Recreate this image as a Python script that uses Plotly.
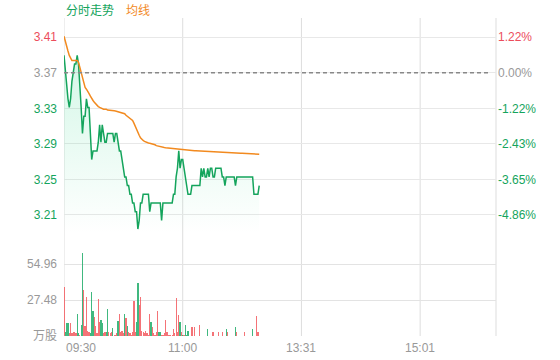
import plotly.graph_objects as go

# ---------------- data ----------------
prev_close = 3.37

price = [
    3.39, 3.37, 3.35, 3.34, 3.33, 3.34, 3.36, 3.37, 3.38, 3.38,
    3.39, 3.38, 3.36, 3.33, 3.30, 3.32, 3.32, 3.34, 3.33, 3.33,
    3.30, 3.27, 3.28, 3.28, 3.28, 3.28, 3.29, 3.31, 3.29, 3.31,
    3.30, 3.29, 3.29, 3.30, 3.30, 3.30, 3.30, 3.30, 3.29, 3.30,
    3.30, 3.29, 3.28, 3.28, 3.27, 3.26, 3.25, 3.25, 3.24, 3.24,
    3.23, 3.23, 3.22, 3.22, 3.21, 3.21, 3.19, 3.20, 3.22, 3.22,
    3.23, 3.23, 3.23, 3.23, 3.23, 3.21, 3.22, 3.22, 3.22, 3.22,
    3.22, 3.22, 3.22, 3.22, 3.20, 3.22, 3.22, 3.22, 3.22, 3.22,
    3.22, 3.22, 3.22, 3.23, 3.23, 3.25, 3.26, 3.28, 3.26, 3.27,
    3.27, 3.26, 3.25, 3.24, 3.23, 3.23, 3.23, 3.24, 3.24, 3.24,
    3.24, 3.24, 3.24, 3.24, 3.26, 3.25, 3.26, 3.25, 3.25, 3.26,
    3.25, 3.26, 3.26, 3.25, 3.25, 3.26, 3.26, 3.26, 3.26, 3.26,
    3.25, 3.25, 3.24, 3.25, 3.25, 3.25, 3.25, 3.25, 3.25, 3.25,
    3.24, 3.25, 3.25, 3.25, 3.25, 3.25, 3.25, 3.25, 3.25, 3.25,
    3.25, 3.25, 3.25, 3.25, 3.23, 3.23, 3.23, 3.23, 3.24,
]

avg_price = [
    3.412, 3.405, 3.399, 3.395, 3.390, 3.386, 3.384, 3.384, 3.384, 3.384,
    3.384, 3.382, 3.376, 3.369, 3.362, 3.357, 3.353, 3.351, 3.349, 3.346,
    3.343, 3.340, 3.338, 3.336, 3.334, 3.332, 3.331, 3.330, 3.329, 3.329,
    3.328, 3.328, 3.328, 3.327, 3.327, 3.327, 3.327, 3.3265, 3.3262, 3.326,
    3.3255, 3.325, 3.3245, 3.324, 3.3235, 3.323, 3.3228, 3.321, 3.320, 3.318,
    3.317, 3.316, 3.315, 3.312, 3.308, 3.304, 3.300, 3.298, 3.295, 3.293,
    3.292, 3.291, 3.290, 3.2895, 3.289, 3.2888, 3.2885, 3.288, 3.2875, 3.287,
    3.286, 3.2855, 3.285, 3.2845, 3.2843, 3.2841, 3.2839, 3.2837, 3.2835, 3.2833,
    3.2831, 3.283, 3.2828, 3.2826, 3.2824, 3.2822, 3.282, 3.2818, 3.2816, 3.2815,
    3.2814, 3.2813, 3.2812, 3.281, 3.2809, 3.2807, 3.2806, 3.2805, 3.2803, 3.2802,
    3.2801, 3.28, 3.2799, 3.2798, 3.2796, 3.2795, 3.2794, 3.2793, 3.2791, 3.279,
    3.2789, 3.2788, 3.2788, 3.2787, 3.2786, 3.2786, 3.2785, 3.2784, 3.2783, 3.2783,
    3.2782, 3.2781, 3.2781, 3.278, 3.2779, 3.2779, 3.2778, 3.2777, 3.2777, 3.2776,
    3.2775, 3.2775, 3.2774, 3.2773, 3.2772, 3.2772, 3.2771, 3.277, 3.2769, 3.2768,
    3.2768, 3.2767, 3.2766, 3.2765, 3.2765, 3.2764, 3.2763, 3.2763, 3.2762,
]

volume = [
    37.6, 3, 10, 10, 2, 10, 2, 3, 3, 2,
    16.8, 2, 1, 8.4, 63.6, 35, 8, 29.5, 4, 3,
    2, 33.8, 19, 14.8, 8, 2, 28, 11, 12, 10,
    2, 3, 3, 20.6, 3, 2, 3, 6, 1, 1,
    2, 11.7, 16.8, 3, 4, 2, 16.8, 13.5, 8, 3,
    2, 1, 3, 26.7, 3, 11, 40.7, 23.7, 29.5, 4,
    3, 2, 4, 2, 1, 16.8, 11, 6.6, 2, 1,
    3, 19, 3, 3, 1, 1, 2, 12, 3, 1,
    1, 0.5, 1, 5, 2, 28.8, 3, 16, 11, 3,
    1, 1, 8.4, 1, 4, 0, 0, 6.6, 0, 6.6,
    0, 0, 0, 8.4, 0, 0, 0, 0, 0, 5,
    0, 0, 0, 3, 0, 0, 0, 3, 0, 0,
    3, 0, 0, 5.5, 3, 0, 0, 0, 0, 0,
    6.6, 3, 0, 0, 0, 0, 0, 3, 0, 0,
    0, 0, 0, 5, 0, 0, 15.3, 3, 0,
]

# r = up (red), g = down (green)
volume_side = (
    "rgggrrrrrr" "ggrggrrrrr" "gggrrrrrgg" "rrggrrrgrr" "rgrrrrgrgr"
    "rrrrrggrrr" "rrrrrrgrrr" "rrggrrrrrr" "rrrrrrrrgr" "grgggrrrrr"
    "rrrrrrrrrg" "rrrrrrrrrr" "rrrgrrrrrr" "grrrrrrrrr" "rrrgrrrrr"
)

price_tick_labels = ["3.41", "3.37", "3.33", "3.29", "3.25", "3.21"]
pct_ticks = [1.22, 0.00, -1.22, -2.43, -3.65, -4.86]
pct_tick_labels = ["1.22%", "0.00%", "-1.22%", "-2.43%", "-3.65%", "-4.86%"]
vol_ticks = [0, 27.48, 54.96]
vol_tick_labels = ["万股", "27.48", "54.96"]
time_ticks = [0, 90, 180, 270]
time_labels = ["09:30", "11:00", "13:31", "15:01"]

# ---------------- style ----------------
RED = "#ec4d5c"
GREEN = "#14a45c"
ORANGE = "#f28a1f"
GRAY = "#999999"
GRID = "#e8e8e8"
FONT = "Liberation Sans, Arial, Noto Sans CJK SC, sans-serif"

x_max = 327.5
price_lo, price_hi = 3.1797, 3.4330
vol_hi = 68.7

minutes = list(range(len(price)))
price_tick_vals = [prev_close * (1 + p / 100) for p in pct_ticks]
pct_lo = (price_lo / prev_close - 1) * 100
pct_hi = (price_hi / prev_close - 1) * 100


def tick_color(p):
    return RED if p > 0 else (GRAY if p == 0 else GREEN)


left_text = [f"<span style='color:{tick_color(p)}'>{t}</span>"
             for p, t in zip(pct_ticks, price_tick_labels)]
right_text = [f"<span style='color:{tick_color(p)}'>{t}</span>"
              for p, t in zip(pct_ticks, pct_tick_labels)]

bar_colors = ["rgba(242,90,95,0.85)" if s == "r" else "rgba(30,172,105,0.85)"
              for s in volume_side]

fig = go.Figure()

fig.add_trace(go.Scatter(
    x=minutes, y=price, mode="lines",
    line=dict(color=GREEN, width=1.5),
    fill="tozeroy",
    fillgradient=dict(type="vertical",
                      colorscale=[[0, "rgba(40,215,135,0)"], [1, "rgba(40,215,135,0.2)"]],
                      start=price_lo + 0.005, stop=max(price)),
    xaxis="x", yaxis="y", hoverinfo="skip", showlegend=False,
))
fig.add_trace(go.Scatter(
    x=minutes, y=avg_price, mode="lines",
    line=dict(color=ORANGE, width=1.5),
    xaxis="x", yaxis="y", hoverinfo="skip", showlegend=False,
))
fig.add_trace(go.Bar(
    x=minutes, y=volume, marker=dict(color=bar_colors, line=dict(width=0)),
    width=0.95, xaxis="x2", yaxis="y2", hoverinfo="skip", showlegend=False,
))
# invisible trace to carry right-hand percentage axis
fig.add_trace(go.Scatter(x=[0], y=[0], mode="markers", marker=dict(opacity=0),
                         xaxis="x", yaxis="y3", hoverinfo="skip", showlegend=False))

shapes = []
for t in time_ticks:
    shapes.append(dict(type="line", xref="x", yref="paper", x0=t, x1=t, y0=0, y1=1,
                       line=dict(color="#dddddd", width=1), layer="below"))
shapes.append(dict(type="line", xref="paper", yref="paper", x0=1, x1=1, y0=0, y1=1,
                   line=dict(color="#dddddd", width=1), layer="below"))
shapes.append(dict(type="line", xref="x", yref="y", x0=0, x1=x_max * 0.985,
                   y0=prev_close, y1=prev_close,
                   line=dict(color="#888888", width=1.5, dash="4px,3px")))

annotations = [
    dict(text="分时走势", x=0, y=1.0, xref="paper", yref="paper", yshift=7,
         xanchor="left", yanchor="middle", showarrow=False,
         font=dict(color=GREEN, size=12, family=FONT)),
    dict(text="均线", x=0, y=1.0, xref="paper", yref="paper", xshift=60, yshift=7,
         xanchor="left", yanchor="middle", showarrow=False,
         font=dict(color=ORANGE, size=12, family=FONT)),
]
for i, (t, lab) in enumerate(zip(time_ticks, time_labels)):
    annotations.append(dict(text=lab, x=t, y=0, xref="x", yref="paper", yshift=-12,
                            xanchor="left" if i == 0 else "center", yanchor="middle",
                            showarrow=False, font=dict(color=GRAY, size=12, family=FONT)))

fig.update_layout(
    width=560, height=360,
    margin=dict(l=64, r=64, t=18, b=24, autoexpand=False),
    paper_bgcolor="white", plot_bgcolor="white",
    font=dict(family=FONT, size=12, color=GRAY),
    bargap=0,
    xaxis=dict(domain=[0, 1], range=[0, x_max], anchor="y", showgrid=False,
               showticklabels=False, zeroline=False, showline=False, automargin=False),
    xaxis2=dict(domain=[0, 1], range=[0, x_max], anchor="y2", matches="x", showgrid=False,
                showticklabels=False, zeroline=False, showline=False, automargin=False),
    yaxis=dict(domain=[0.3082, 1], range=[price_lo, price_hi], tickvals=price_tick_vals,
               ticktext=left_text, showgrid=True, gridcolor=GRID, gridwidth=1,
               zeroline=False, showline=False, ticks="", ticklabelstandoff=6,
               tickfont=dict(size=12), automargin=False),
    yaxis3=dict(overlaying="y", side="right", anchor="x", range=[pct_lo, pct_hi],
                tickvals=pct_ticks, ticktext=right_text, showgrid=False, zeroline=False,
                showline=False, ticks="", ticklabelstandoff=1, tickfont=dict(size=12),
                automargin=False),
    yaxis2=dict(domain=[0, 0.283], range=[0, vol_hi], tickvals=vol_ticks,
                ticktext=vol_tick_labels, showgrid=True, gridcolor="#e3e3e3",
                zeroline=False, showline=False, ticks="", ticklabelstandoff=6,
                tickfont=dict(size=12, color=GRAY), automargin=False),
    shapes=shapes,
    annotations=annotations,
)

fig.write_html("out.html", config={"displayModeBar": False},
               post_script="document.body.style.margin='0';")
